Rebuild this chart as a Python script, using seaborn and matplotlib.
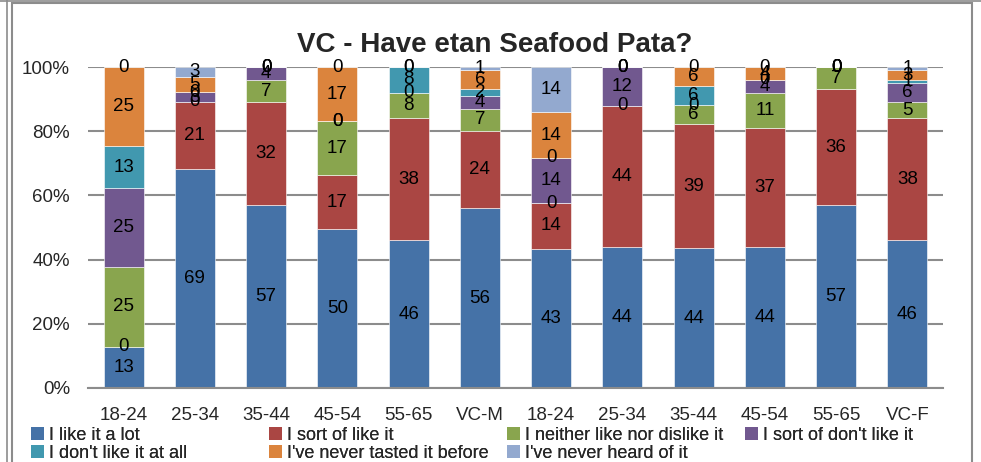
import numpy as np
import pandas as pd
import seaborn as sns
import matplotlib
matplotlib.use("Agg")
from matplotlib import pyplot as plt
from matplotlib.patches import Patch, Rectangle
from matplotlib.lines import Line2D

# bars (first six male, last six female)
bar_ids = ["M 18-24", "M 25-34", "M 35-44", "M 45-54", "M 55-65", "VC-M",
           "F 18-24", "F 25-34", "F 35-44", "F 45-54", "F 55-65", "VC-F"]
tick_labels = ["18-24", "25-34", "35-44", "45-54", "55-65", "VC-M",
               "18-24", "25-34", "35-44", "45-54", "55-65", "VC-F"]

series = ["I like it a lot", "I sort of like it", "I neither like nor dislike it",
          "I sort of don't like it", "I don't like it at all",
          "I've never tasted it before", "I've never heard of it"]
colors = ["#4572A7", "#AA4643", "#89A54E", "#71588F", "#4198AF", "#DB843D", "#93A9CF"]

like_lot     = [13, 69, 57, 50, 46, 56, 43, 44, 44, 44, 57, 46]
sort_like    = [0, 21, 32, 17, 38, 24, 14, 44, 39, 37, 36, 38]
neither      = [25, 0, 7, 17, 8, 7, 0, 0, 6, 11, 7, 5]
sort_dislike = [25, 3, 4, 0, 0, 4, 14, 12, 0, 4, 0, 6]
dislike      = [13, 0, 0, 0, 8, 2, 0, 0, 6, 0, 0, 1]
never_tasted = [25, 5, 0, 17, 0, 6, 14, 0, 6, 4, 0, 3]
never_heard  = [0, 3, 0, 0, 0, 1, 14, 0, 0, 0, 0, 1]

values = [like_lot, sort_like, neither, sort_dislike, dislike, never_tasted, never_heard]

sns.set_style("white")
plt.rcParams["font.family"] = ["Liberation Sans", "DejaVu Sans"]

fig = plt.figure(figsize=(9.81, 4.62), dpi=100)
ax = fig.add_axes([88 / 981, 74 / 462, 855 / 981, 321 / 462])

totals = np.sum(np.array(values, dtype=float), axis=0)
bottom = np.zeros(len(bar_ids))
for name, vals, col in zip(series, values, colors):
    pct = np.array(vals, dtype=float) / totals * 100
    df = pd.DataFrame({"bar": bar_ids, "pct": pct})
    sns.barplot(data=df, x="bar", y="pct", order=bar_ids, color=col, width=0.56,
                bottom=bottom, edgecolor="white", linewidth=0.4, ax=ax,
                saturation=1, errorbar=None)
    ax.bar_label(ax.containers[-1], labels=[str(v) for v in vals],
                 label_type="center", fontsize=13.5, color="black")
    bottom = bottom + pct

ax.set_ylim(0, 100)
ax.set_xlim(-0.5, len(bar_ids) - 0.5)
ax.set_yticks([0, 20, 40, 60, 80, 100])
ax.set_yticklabels([f"{t}%" for t in [0, 20, 40, 60, 80, 100]], fontsize=13.5)
ax.set_xticks(range(len(bar_ids)))
ax.set_xticklabels(tick_labels, fontsize=13.5)
ax.tick_params(axis="both", length=0)
ax.tick_params(axis="x", pad=14)
ax.tick_params(axis="y", pad=13)
ax.set_xlabel("")
ax.set_ylabel("")
ax.yaxis.grid(True, color="#8c8c8c", linewidth=1.5)
ax.set_axisbelow(True)
for s in ["left", "right", "top"]:
    ax.spines[s].set_visible(False)
ax.spines["bottom"].set_color("#8c8c8c")
ax.spines["bottom"].set_linewidth(1.5)

fig.text(495 / 981, 1 - 45 / 462, "VC - Have etan Seafood Pata?", ha="center",
         va="center", fontsize=20, fontweight="bold")

# legend: four equal-width columns, two rows
col_x = [31, 269, 507, 745]
for i in range(4):
    idx = [j for j in (i, i + 4) if j < len(series)]
    handles = [Patch(facecolor=colors[j], edgecolor="none") for j in idx]
    leg = fig.legend(handles, [series[j] for j in idx], loc="upper left",
                     bbox_to_anchor=(col_x[i] / 981, 1 - 427 / 462),
                     frameon=False, fontsize=13, handlelength=0.7,
                     handleheight=0.7, handletextpad=0.3, labelspacing=0.05,
                     borderpad=0, borderaxespad=0)
    fig.add_artist(leg)

# worksheet / chart borders
fig.add_artist(Rectangle((12 / 981, -0.1), 960 / 981, 1.1 - 3.5 / 462,
                         transform=fig.transFigure, fill=False,
                         edgecolor="#8c8c8c", linewidth=1.5))
fig.add_artist(Line2D([7 / 981, 7 / 981], [0, 1], transform=fig.transFigure,
                      color="#8c8c8c", linewidth=1.2))
fig.add_artist(Line2D([0, 1], [1 - 0.8 / 462, 1 - 0.8 / 462], transform=fig.transFigure,
                      color="#8c8c8c", linewidth=1.2))

fig.savefig("out.png", dpi=100)
